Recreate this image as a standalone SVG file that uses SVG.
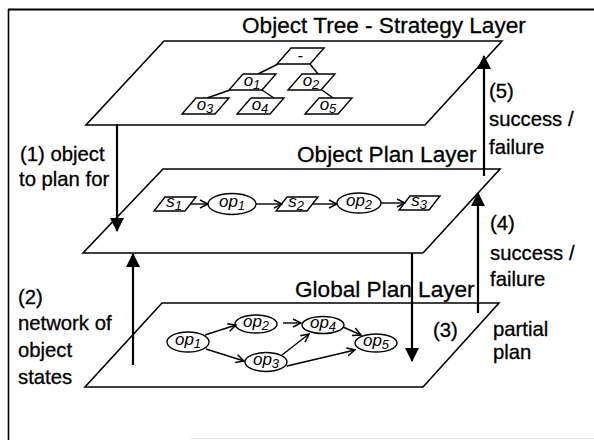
<svg xmlns="http://www.w3.org/2000/svg" width="594" height="440" viewBox="0 0 594 440">
<style>
.frame{stroke:#000;fill:none}
.plane{fill:#fff;stroke:#000;stroke-width:1.6;stroke-linejoin:miter}
.nd{fill:#fff;stroke:#000;stroke-width:1.4}
.edge{stroke:#000;stroke-width:1.4;fill:none}
.thick{stroke:#000;stroke-width:2.2;fill:none}
.title{font-family:"Liberation Sans",Arial,sans-serif;font-size:22.6px;fill:#000;stroke:#000;stroke-width:0.3}
.lbl{font-family:"Liberation Sans",Arial,sans-serif;font-size:20.3px;fill:#000;stroke:#000;stroke-width:0.3}
.nl{font-family:"Liberation Sans",Arial,sans-serif;font-style:italic;font-size:17px;fill:#000;text-anchor:middle}
.sub{font-size:13px}
</style>
<defs>
<marker id="big" markerUnits="userSpaceOnUse" markerWidth="14" markerHeight="14" viewBox="0 0 14 14" refX="13" refY="7" orient="auto">
<path d="M0,0 L14,7 L0,14 z" fill="#000"/>
</marker>
<marker id="open" markerUnits="userSpaceOnUse" markerWidth="10" markerHeight="10" viewBox="0 0 10 10" refX="9" refY="5" orient="auto">
<path d="M1,1 L9,5 L1,9" fill="none" stroke="#000" stroke-width="1.5"/>
</marker>
</defs>
<rect width="594" height="440" fill="#fff"/>
<g id="frame">
<line class="frame" x1="8" y1="9.5" x2="594" y2="9.5" stroke-width="2.2"/>
<line class="frame" x1="8.5" y1="9" x2="8.5" y2="440" stroke-width="1.6"/>
<line x1="190" y1="438.5" x2="594" y2="438.5" stroke="#e4e4e4" stroke-width="1"/>
</g>

<g id="layer-tree">
<polygon class="plane" points="164,41 502,41 425,125 86,125"/>
<text class="title" x="242" y="33">Object Tree - Strategy Layer</text>
</g>
<g id="layer-objplan">
<polygon class="plane" points="163,169 500,169 423,253 83,253"/>
<text class="title" x="297" y="162">Object Plan Layer</text>
</g>
<g id="layer-global">
<polygon class="plane" points="162,303 499,303 423,387 85,387"/>
<text class="title" x="295" y="297">Global Plan Layer</text>
</g>

<g id="tree-edges">
<line class="edge" x1="278" y1="64" x2="258" y2="74"/>
<line class="edge" x1="310" y1="64" x2="318" y2="74"/>
<line class="edge" x1="230" y1="90" x2="207" y2="98"/>
<line class="edge" x1="262" y1="90" x2="274" y2="98"/>
<line class="edge" x1="322" y1="90" x2="333" y2="98"/>
</g>
<g id="t-root"><polygon class="nd" points="277,64 310,64 324,48 291,48"/><text class="nl" x="300" y="61">-</text></g>
<g id="t-o1"><polygon class="nd" points="229,90 262,90 276,74 243,74"/><text class="nl" x="252" y="86">o<tspan class="sub" dy="3">1</tspan></text></g>
<g id="t-o2"><polygon class="nd" points="288,90 321,90 335,74 302,74"/><text class="nl" x="311" y="86">o<tspan class="sub" dy="3">2</tspan></text></g>
<g id="t-o3"><polygon class="nd" points="182,114 215,114 229,98 196,98"/><text class="nl" x="205" y="110">o<tspan class="sub" dy="3">3</tspan></text></g>
<g id="t-o4"><polygon class="nd" points="237,114 270,114 284,98 251,98"/><text class="nl" x="260" y="110">o<tspan class="sub" dy="3">4</tspan></text></g>
<g id="t-o5"><polygon class="nd" points="305,114 338,114 352,98 319,98"/><text class="nl" x="328" y="110">o<tspan class="sub" dy="3">5</tspan></text></g>

<g id="p-s1"><polygon class="nd" points="154,211 185,211 196,197 165,197"/><text class="nl" x="174" y="207">s<tspan class="sub" dy="3">1</tspan></text></g>
<g id="p-op1"><ellipse class="nd" cx="232" cy="204" rx="24" ry="10.5"/><text class="nl" x="232" y="207">op<tspan class="sub" dy="3">1</tspan></text></g>
<g id="p-s2"><polygon class="nd" points="276,211 307,211 318,197 287,197"/><text class="nl" x="296" y="207">s<tspan class="sub" dy="3">2</tspan></text></g>
<g id="p-op2"><ellipse class="nd" cx="359" cy="203" rx="22" ry="10"/><text class="nl" x="359" y="206">op<tspan class="sub" dy="3">2</tspan></text></g>
<g id="p-s3"><polygon class="nd" points="399,210 429,210 440,196 410,196"/><text class="nl" x="419" y="206">s<tspan class="sub" dy="3">3</tspan></text></g>

<g id="g-op1"><ellipse class="nd" cx="188" cy="342" rx="21" ry="10"/><text class="nl" x="188" y="345">op<tspan class="sub" dy="3">1</tspan></text></g>
<g id="g-op2"><ellipse class="nd" cx="256" cy="324" rx="21" ry="9"/><text class="nl" x="256" y="327">op<tspan class="sub" dy="3">2</tspan></text></g>
<g id="g-op3"><ellipse class="nd" cx="266" cy="362" rx="21" ry="9.5"/><text class="nl" x="266" y="365">op<tspan class="sub" dy="3">3</tspan></text></g>
<g id="g-op4"><ellipse class="nd" cx="323" cy="325" rx="21" ry="8.5"/><text class="nl" x="323" y="328">op<tspan class="sub" dy="3">4</tspan></text></g>
<g id="g-op5"><ellipse class="nd" cx="376" cy="343" rx="21" ry="9"/><text class="nl" x="376" y="346">op<tspan class="sub" dy="3">5</tspan></text></g>

<g id="connectors">
<line class="edge" x1="191" y1="204" x2="208" y2="204" marker-end="url(#open)"/>
<line class="edge" x1="256" y1="204" x2="282" y2="204" marker-end="url(#open)"/>
<line class="edge" x1="313" y1="204" x2="337" y2="204" marker-end="url(#open)"/>
<line class="edge" x1="381" y1="203" x2="405" y2="203" marker-end="url(#open)"/>
<line class="edge" x1="205" y1="335" x2="236" y2="325" marker-end="url(#open)"/>
<line class="edge" x1="206" y1="349" x2="244" y2="361" marker-end="url(#open)"/>
<line class="edge" x1="283" y1="323" x2="301" y2="323" marker-end="url(#open)"/>
<line class="edge" x1="282" y1="355" x2="309" y2="334" marker-end="url(#open)"/>
<line class="edge" x1="343" y1="327" x2="361" y2="335" marker-end="url(#open)"/>
<line class="edge" x1="287" y1="366" x2="355" y2="350" marker-end="url(#open)"/>
<line class="thick" x1="117" y1="124" x2="117" y2="231" marker-end="url(#big)"/>
<line class="thick" x1="133" y1="365" x2="133" y2="254" marker-end="url(#big)"/>
<line class="thick" x1="412" y1="253" x2="412" y2="361" marker-end="url(#big)"/>
<line class="thick" x1="478" y1="313" x2="478" y2="193" marker-end="url(#big)"/>
<line class="thick" x1="484" y1="176" x2="484" y2="56" marker-end="url(#big)"/>
</g>

<g id="labels">
<text class="lbl" x="20" y="161">(1) object</text>
<text class="lbl" x="19" y="186">to plan for</text>
<text class="lbl" x="18" y="304">(2)</text>
<text class="lbl" x="18" y="330">network of</text>
<text class="lbl" x="18" y="357">object</text>
<text class="lbl" x="18" y="384">states</text>
<text class="lbl" x="433" y="337">(3)</text>
<text class="lbl" x="493" y="336">partial</text>
<text class="lbl" x="493" y="359">plan</text>
<text class="lbl" x="490" y="230">(4)</text>
<text class="lbl" x="490" y="260">success /</text>
<text class="lbl" x="490" y="286">failure</text>
<text class="lbl" x="489" y="98">(5)</text>
<text class="lbl" x="489" y="126">success /</text>
<text class="lbl" x="489" y="154">failure</text>
</g>
</svg>
